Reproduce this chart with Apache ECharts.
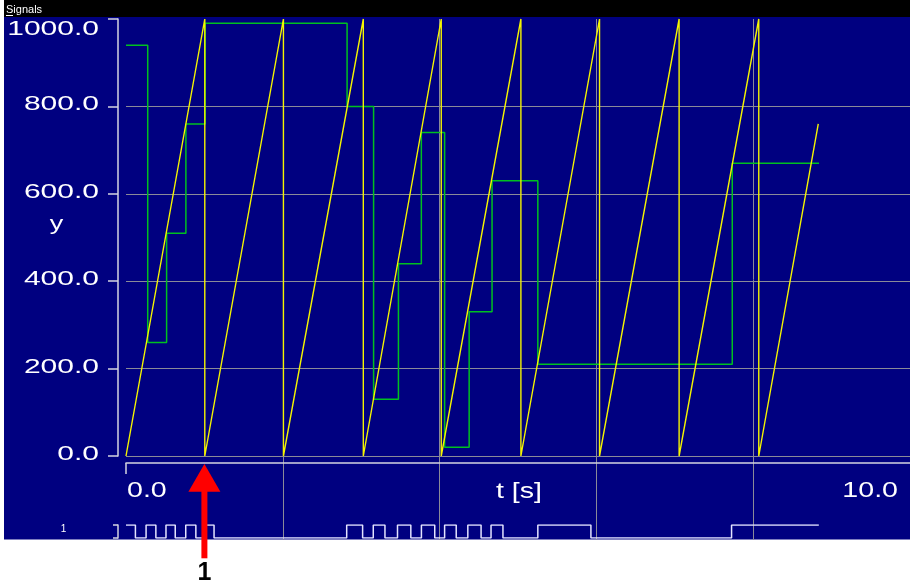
<!DOCTYPE html>
<html>
<head>
<meta charset="utf-8">
<script src="https://cdn.jsdelivr.net/npm/echarts@6.0.0/dist/echarts.min.js"></script>
<style>
html,body{margin:0;padding:0;background:#fff;}
#c{width:910px;height:585px;}
</style>
</head>
<body>
<div id="c"></div>
<script>
// ---- data ----
// yellow sawtooth (time s, value)
const sawT = [0, 1.005, 1.005, 2.008, 2.008, 3.027, 3.027, 4.021, 4.021, 5.037, 5.037, 6.04, 6.04, 7.055, 7.055, 8.071, 8.071, 8.83];
const sawY = [0, 1000, 0, 1000, 0, 1000, 0, 1000, 0, 1000, 0, 1000, 0, 1000, 0, 1000, 0, 760];
// green sample & hold
const greenT = [0, 0.277, 0.518, 0.764, 1.009, 2.82, 3.158, 3.475, 3.767, 4.064, 4.377, 4.669, 5.253, 7.733, 8.84];
const greenV = [940, 260, 510, 760, 990, 800, 130, 440, 740, 20, 330, 630, 210, 670, 670];
// digital trigger signal
const digT = [0, 0.12, 0.256, 0.381, 0.51, 0.628, 0.762, 0.891, 0.996, 1.123, 2.815, 3.018, 3.154, 3.303, 3.463, 3.633, 3.768, 3.938, 4.064, 4.212, 4.36, 4.529, 4.656, 4.808, 5.253, 5.93, 7.724, 8.837];
const digV = [1, 0, 1, 0, 1, 0, 1, 0, 1, 0, 1, 0, 1, 0, 1, 0, 1, 0, 1, 0, 1, 0, 1, 0, 1, 0, 1, 1];
// tick labels and texts
const yTickValues = [0, 200, 400, 600, 800, 1000];
const yTickLabels = ['0.0', '200.0', '400.0', '600.0', '800.0', '1000.0'];
const xTickValues = [0, 10];
const xTickLabels = ['0.0', '10.0'];
const xTitle = 't [s]';
const yTitle = 'y';
const digLabel = '1';
const windowTitle = 'Signals';
const markerT = 1.0;
const markerLabel = '1';

const zip = (a, b) => a.map((v, i) => [v, b[i]]);

const gridColor = '#8a8a98';
const axisColor = '#d4d4e0';
const FONT = '"Liberation Sans", Arial, sans-serif';

const chart = echarts.init(document.getElementById('c'), null, {renderer: 'canvas'});

const option = {
  animation: false,
  backgroundColor: '#ffffff',
  grid: [
    {left: 126, top: 19, width: 788, height: 521, show: false},
    {left: 126, top: 19, width: 788, height: 437, show: false},
    {left: 126, top: 525, width: 788, height: 13, show: false}
  ],
  xAxis: [
    {gridIndex: 0, type: 'value', min: 0, max: 10, interval: 2,
     axisLine: {show: false, onZero: false}, axisTick: {show: false}, axisLabel: {show: false},
     splitLine: {show: true, showMinLine: false, showMaxLine: false, lineStyle: {color: gridColor, width: 1}}},
    {gridIndex: 1, type: 'value', min: 0, max: 10, interval: 2, offset: 7, position: 'bottom',
     axisLine: {show: true, onZero: false, lineStyle: {color: axisColor, width: 1.5}},
     axisTick: {show: true, customValues: [0], length: 11, lineStyle: {color: axisColor, width: 1.5}},
     axisLabel: {show: false}, splitLine: {show: false}},
    {gridIndex: 2, type: 'value', min: 0, max: 10, show: false, axisLine: {onZero: false}}
  ],
  yAxis: [
    {gridIndex: 0, type: 'value', min: 0, max: 1, show: false, axisLine: {onZero: false}},
    {gridIndex: 1, type: 'value', min: 0, max: 1000, interval: 200, offset: 8, position: 'left',
     axisLine: {show: true, onZero: false, lineStyle: {color: axisColor, width: 1.5}},
     axisTick: {show: true, length: 10, lineStyle: {color: axisColor, width: 1.5}},
     axisLabel: {show: false},
     splitLine: {show: true, showMaxLine: false, lineStyle: {color: gridColor, width: 1}}},
    {gridIndex: 2, type: 'value', min: 0, max: 1, interval: 1, offset: 8, position: 'left',
     axisLine: {show: true, onZero: false, lineStyle: {color: axisColor, width: 1.5}},
     axisTick: {show: true, length: 5, lineStyle: {color: axisColor, width: 1.5}},
     axisLabel: {show: false}, splitLine: {show: false}}
  ],
  series: [
    {type: 'line', name: 'hold', xAxisIndex: 1, yAxisIndex: 1, step: 'end', symbol: 'none',
     data: zip(greenT, greenV), lineStyle: {color: '#00c020', width: 1.5}},
    {type: 'line', name: 'ramp', xAxisIndex: 1, yAxisIndex: 1, symbol: 'none',
     data: zip(sawT, sawY), lineStyle: {color: '#f4f400', width: 1.4}},
    {type: 'line', name: 'trigger', xAxisIndex: 2, yAxisIndex: 2, step: 'end', symbol: 'none',
     data: zip(digT, digV), lineStyle: {color: '#e4e4ff', width: 1.5}}
  ]
};
chart.setOption(option);

const px = v => chart.convertToPixel({xAxisIndex: 1}, v);
const py = v => chart.convertToPixel({yAxisIndex: 1}, v);
const pyd = v => chart.convertToPixel({yAxisIndex: 2}, v);

const g = [];
// window background
g.push({type: 'rect', z: -5, silent: true, shape: {x: 4, y: 17, width: 906, height: 522.5}, style: {fill: '#000080'}});
g.push({type: 'rect', z: -5, silent: true, shape: {x: 4, y: 0, width: 906, height: 17}, style: {fill: '#000000'}});
g.push({type: 'text', x: 6, y: 9.5, silent: true,
  style: {text: windowTitle, fill: '#ffffff', fontSize: 11, fontFamily: FONT, align: 'left', verticalAlign: 'middle'}});
g.push({type: 'line', silent: true, shape: {x1: 6, y1: 15.5, x2: 13, y2: 15.5}, style: {stroke: '#ffffff', lineWidth: 1}});
// y tick labels
yTickValues.forEach((v, i) => {
  g.push({type: 'text', x: 99, y: Math.max(py(v) - 1.5, 29), scaleX: 1.5, silent: true,
    style: {text: yTickLabels[i], fill: '#ffffff', fontSize: 20, fontFamily: FONT, align: 'right', verticalAlign: 'middle'}});
});
g.push({type: 'text', x: 56.5, y: 224, scaleX: 1.35, silent: true,
  style: {text: yTitle, fill: '#ffffff', fontSize: 20, fontFamily: FONT, align: 'center', verticalAlign: 'middle'}});
// x tick labels
g.push({type: 'text', x: px(xTickValues[0]) + 1, y: 490.5, scaleX: 1.3, silent: true,
  style: {text: xTickLabels[0], fill: '#ffffff', fontSize: 22, fontFamily: FONT, align: 'left', verticalAlign: 'middle'}});
g.push({type: 'text', x: px(xTickValues[1]) - 12, y: 490.5, scaleX: 1.3, silent: true,
  style: {text: xTickLabels[1], fill: '#ffffff', fontSize: 22, fontFamily: FONT, align: 'right', verticalAlign: 'middle'}});
g.push({type: 'text', x: 519, y: 491.5, scaleX: 1.3, silent: true,
  style: {text: xTitle, fill: '#ffffff', fontSize: 22, fontFamily: FONT, align: 'center', verticalAlign: 'middle'}});
// digital channel label
g.push({type: 'text', x: 63.5, y: (pyd(0) + pyd(1)) / 2 - 2, silent: true,
  style: {text: digLabel, fill: '#ffffff', fontSize: 10, fontFamily: FONT, align: 'center', verticalAlign: 'middle'}});
// red marker arrow
const ax = px(markerT);
g.push({type: 'polygon', silent: true, z: 10, shape: {points: [[ax, 464], [ax - 16, 491.7], [ax + 16, 491.7]]}, style: {fill: '#ff0000'}});
g.push({type: 'rect', silent: true, z: 10, shape: {x: ax - 3, y: 491, width: 6, height: 67.3}, style: {fill: '#ff0000'}});
g.push({type: 'text', x: ax, y: 573, silent: true,
  style: {text: markerLabel, fill: '#000000', fontSize: 25, fontWeight: 'bold', fontFamily: FONT, align: 'center', verticalAlign: 'middle'}});

chart.setOption({graphic: {elements: g}});
</script>
</body>
</html>
